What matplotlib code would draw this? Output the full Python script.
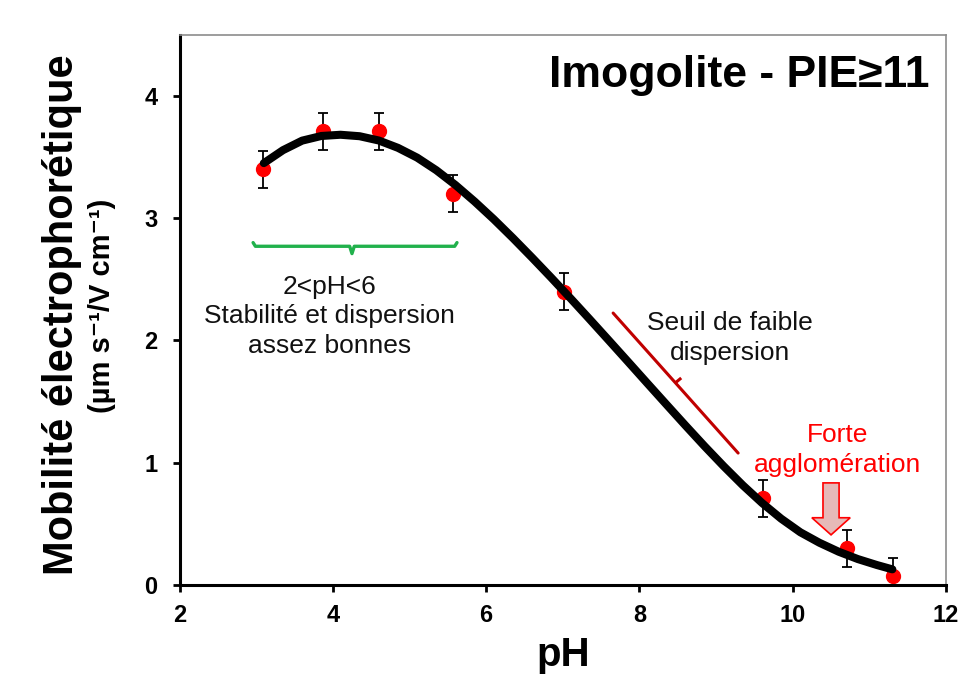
import matplotlib
matplotlib.use('Agg')
import matplotlib.pyplot as plt
from matplotlib.patches import FancyArrow

plt.rcParams['font.family'] = ['Liberation Sans', 'DejaVu Sans']

# points mesurés
ph = [3.09, 3.87, 4.60, 5.57, 7.02, 9.61, 10.71, 11.31]
mobilite = [3.40, 3.71, 3.71, 3.20, 2.40, 0.71, 0.30, 0.07]
erreur = [0.15, 0.15, 0.15, 0.15, 0.15, 0.15, 0.15, 0.15]

# courbe de tendance
ph_courbe = [3.10, 3.35, 3.60, 3.85, 4.10, 4.35, 4.60, 4.85, 5.10, 5.35, 5.60,
             5.85, 6.10, 6.35, 6.60, 6.85, 7.10, 7.35, 7.60, 7.85, 8.10, 8.35,
             8.60, 8.85, 9.10, 9.35, 9.60, 9.85, 10.10, 10.35, 10.60, 10.85,
             11.10, 11.30]
mob_courbe = [3.450, 3.556, 3.634, 3.672, 3.682, 3.670, 3.635, 3.575, 3.495,
              3.392, 3.271, 3.136, 2.991, 2.837, 2.677, 2.513, 2.345, 2.174,
              2.001, 1.827, 1.652, 1.478, 1.305, 1.135, 0.971, 0.815, 0.671,
              0.542, 0.431, 0.345, 0.272, 0.212, 0.163, 0.128]

x_ticks = [2, 4, 6, 8, 10, 12]
y_ticks = [0, 1, 2, 3, 4]

fig = plt.figure(figsize=(9.61, 6.77), dpi=100)
ax = fig.add_axes([0.1868, 0.1359, 0.7976, 0.8128])

ax.errorbar(ph, mobilite, yerr=erreur, fmt='o', color='#ff0000', ms=10,
            ecolor='black', elinewidth=1.3, capsize=3.6, capthick=1.3, zorder=2)
ax.plot(ph_courbe, mob_courbe, color='black', lw=5.8,
        solid_capstyle='round', solid_joinstyle='round', zorder=3)

ax.set_xlim(2, 12)
ax.set_ylim(0, 4.5)
ax.set_xticks(x_ticks)
ax.set_yticks(y_ticks)
ax.tick_params(direction='out', length=5, width=2, labelsize=17)
ax.tick_params(axis='x', pad=9)
ax.tick_params(axis='y', pad=11)
for lab in ax.get_xticklabels() + ax.get_yticklabels():
    lab.set_fontweight('bold')

for s in ['left', 'bottom']:
    ax.spines[s].set_linewidth(2.2)
    ax.spines[s].set_color('black')
for s in ['top', 'right']:
    ax.spines[s].set_linewidth(1.2)
    ax.spines[s].set_color('#8c8c8c')

ax.set_xlabel('pH', fontsize=29, fontweight='bold', labelpad=6)
fig.text(0.0645, 0.535, 'Mobilité électrophorétique', rotation=90,
         fontsize=30, fontweight='bold', ha='center', va='center')
fig.text(0.106, 0.549, '(µm s⁻¹/V cm⁻¹)', rotation=90,
         fontsize=21, fontweight='bold', ha='center', va='center')

ax.text(0.979, 0.9055, 'Imogolite - PIE≥11', transform=ax.transAxes,
        fontsize=32, fontweight='bold', ha='right', va='baseline')

# accolade verte
ax.plot([2.96, 2.99, 4.22, 4.25, 4.28, 5.59, 5.62],
        [2.80, 2.77, 2.77, 2.71, 2.77, 2.77, 2.80],
        color='#21b14c', lw=2.4, solid_joinstyle='round', solid_capstyle='round')
ax.text(3.96, 1.897, '2<pH<6\nStabilité et dispersion\nassez bonnes',
        fontsize=19, ha='center', va='baseline', linespacing=1.3, color='#111111')

# seuil de faible dispersion
ax.plot([7.657, 9.288], [2.224, 1.079], color='#c00000', lw=2.2, solid_capstyle='round')
ax.plot([8.53, 8.478], [1.685, 1.658], color='#c00000', lw=2.2)
ax.text(9.18, 1.84, 'Seuil de faible\ndispersion', fontsize=19,
        ha='center', va='baseline', linespacing=1.3, color='#111111')

# forte agglomération
ax.text(10.58, 0.924, 'Forte\nagglomération', fontsize=19, ha='center',
        va='baseline', linespacing=1.3, color='#ff0000')
ax.add_patch(FancyArrow(10.50, 0.835, 0, -0.425, width=0.21, head_width=0.50,
                        head_length=0.14, length_includes_head=True,
                        fc='#e6b9b8', ec='#ff0000', lw=1.2, zorder=4))

fig.savefig('out.png', dpi=100)
